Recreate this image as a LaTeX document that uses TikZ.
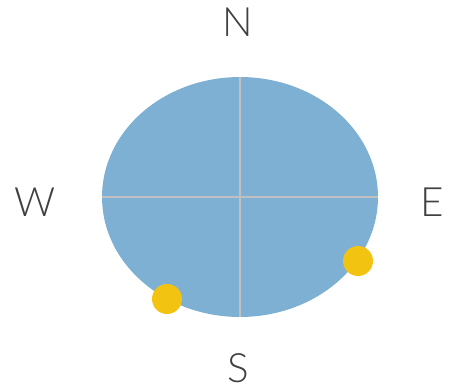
\documentclass[tikz,border=0pt]{standalone}
\usepackage{fontspec}
\newfontfamily\compassfont{Lato Light}
\usepackage{xcolor}
\usepackage{tikz}
\usetikzlibrary{positioning,shapes.geometric}
\definecolor{dialblue}{RGB}{126,176,211}
\definecolor{dialgray}{RGB}{192,192,192}
\definecolor{sunyellow}{RGB}{242,196,17}
\definecolor{labelgray}{RGB}{64,64,64}
\tikzset{
  dial/.style={ellipse, fill=dialblue, inner sep=0pt,
    minimum width=5.52cm, minimum height=4.80cm},
  crossline/.style={draw=dialgray, line width=1.1pt},
  sundot/.style={circle, fill=sunyellow, inner sep=0pt, minimum size=0.60cm},
  heading/.style={font=\compassfont\fontsize{23}{23}\selectfont, text=labelgray,
    inner sep=0pt},
}

\begin{document}
\begin{tikzpicture}[x=0.02cm, y=-0.02cm]
  \useasboundingbox (0,0) rectangle (449,389);

  \node[dial] (dial) at (240,197) {};
  \draw[crossline] (dial.north) -- (dial.south);
  \draw[crossline] (dial.west) -- (dial.east);

  \node[sundot] (sunE) at (358,261) {};
  \node[sundot] (sunS) at (167,299) {};

  \node[heading] (north) at (238,22) {N};
  \node[heading] (south) at (238,368) {S};
  \node[heading] (west) at (35,202) {W};
  \node[heading] (east) at (432,202) {E};
\end{tikzpicture}
\end{document}
